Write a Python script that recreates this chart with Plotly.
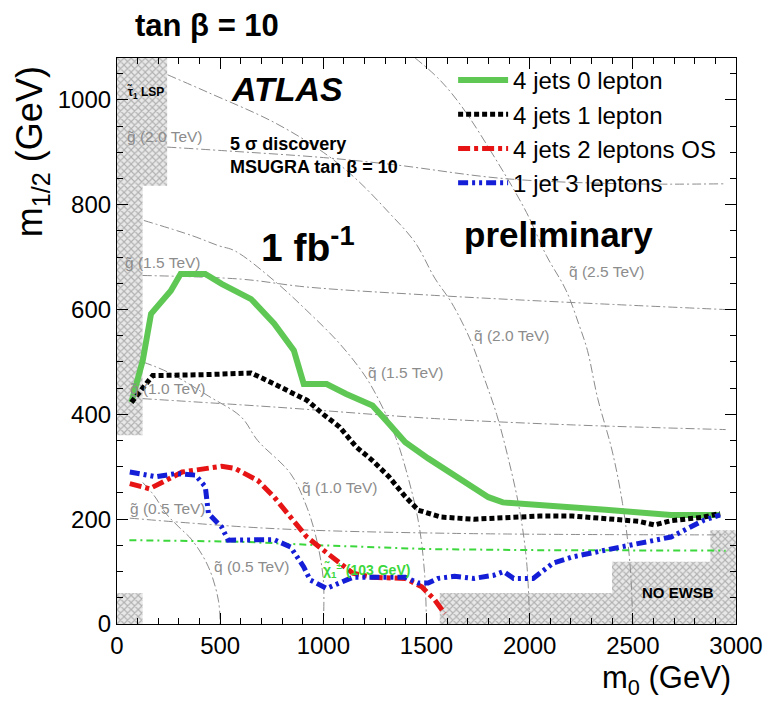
import plotly.graph_objects as go

# ---------------- data (m0, m1/2 in GeV) ----------------
jets4_0lep_m0 = [70, 125, 165, 205, 261, 308, 428, 507, 650, 762, 857, 905, 1016, 1111, 1238, 1318, 1397, 1508, 1600, 1700, 1800, 1870, 1985, 2113, 2367, 2478, 2605, 2685, 2923]
jets4_0lep_m12 = [423, 503, 592, 611, 636, 668, 668, 649, 620, 573, 522, 458, 458, 439, 417, 382, 347, 316, 293, 265, 242, 232, 230, 225, 218, 215, 211, 208, 208]

jets4_1lep_m0 = [70, 142, 173, 443, 650, 762, 920, 1000, 1079, 1159, 1238, 1318, 1397, 1461, 1572, 1731, 2049, 2208, 2367, 2526, 2605, 2685, 2844, 2923]
jets4_1lep_m12 = [423, 458, 474, 476, 479, 458, 427, 400, 376, 338, 312, 281, 243, 217, 204, 200, 206, 206, 201, 196, 189, 197, 204, 211]

jets4_2lep_m0 = [62, 157, 237, 316, 507, 571, 682, 762, 841, 920, 1000, 1079, 1143, 1238, 1397, 1477, 1540, 1588]
jets4_2lep_m12 = [268, 258, 274, 290, 301, 297, 274, 242, 204, 166, 141, 116, 97, 89, 87, 71, 46, 20]

jet1_3lep_m0 = [62, 189, 285, 380, 428, 443, 507, 539, 762, 841, 905, 936, 1016, 1079, 1143, 1397, 1461, 1508, 1556, 1636, 1731, 1826, 1874, 1922, 2017, 2113, 2208, 2367, 2526, 2685, 2844, 2923]
jet1_3lep_m12 = [290, 281, 287, 284, 262, 211, 185, 160, 161, 147, 109, 84, 68, 78, 89, 89, 78, 78, 87, 91, 87, 93, 100, 87, 87, 116, 128, 141, 154, 166, 198, 208]

chargino_m0 = [60, 600, 1000, 1500, 2000, 2950]
chargino_m12 = [160, 157, 150, 143, 141, 140]

# gluino iso-mass lines
gl05_m0 = [62, 762, 1620, 2950]
gl05_m12 = [202, 182, 173, 170]
gl10_m0 = [124, 762, 1540, 2200, 2950]
gl10_m12 = [430, 414, 392, 380, 371]
gl15_m0 = [124, 602, 920, 1540, 2176, 2950]
gl15_m12 = [665, 658, 643, 627, 614, 600]
gl20_m0 = [243, 523, 1000, 1350, 1874, 2462, 2950]
gl20_m12 = [910, 903, 890, 876, 850, 840, 840]

# squark iso-mass lines
sq05_m0 = [125, 180, 237, 300, 364, 443, 491, 500]
sq05_m12 = [270, 245, 211, 185, 160, 109, 46, 0]
sq10_m0 = [125, 250, 443, 602, 682, 841, 920, 968, 1000, 1000]
sq10_m12 = [500, 480, 435, 395, 350, 287, 223, 160, 84, 0]
sq15_m0 = [130, 364, 491, 571, 762, 920, 1079, 1206, 1286, 1350, 1400, 1461, 1490, 1500]
sq15_m12 = [770, 741, 722, 712, 655, 598, 535, 471, 414, 357, 295, 195, 100, 0]
sq20_m0 = [245, 443, 762, 1000, 1159, 1318, 1445, 1540, 1620, 1715, 1779, 1840, 1900, 1950, 1985, 2000]
sq20_m12 = [1048, 1014, 957, 900, 849, 785, 728, 660, 614, 540, 470, 400, 310, 220, 120, 0]
sq25_m0 = [1445, 1560, 1668, 1826, 1985, 2081, 2176, 2240, 2280, 2330, 2400, 2450, 2485, 2500]
sq25_m12 = [1080, 1040, 989, 893, 785, 703, 637, 570, 522, 430, 330, 230, 120, 0]

# excluded (hatched) regions
lsp_top_m0 = [0, 243, 243, 0]
lsp_top_m12 = [836, 836, 1080, 1080]
lsp_strip_m0 = [0, 124, 124, 0]
lsp_strip_m12 = [360, 360, 836, 836]
lowleft_m0 = [0, 124, 124, 0]
lowleft_m12 = [0, 0, 59, 59]
noewsb_m0 = [1564, 1564, 2399, 2399, 2876, 2876, 3000, 3000]
noewsb_m12 = [0, 59, 59, 119, 119, 179, 179, 0]

x_ticks = [0, 500, 1000, 1500, 2000, 2500, 3000]
y_ticks = [0, 200, 400, 600, 800, 1000]

FONT = "Liberation Sans, Arial, sans-serif"
GRAY = "rgb(140,140,140)"

fig = go.Figure()

# hatched regions
for xs, ys in [(lsp_top_m0, lsp_top_m12), (lsp_strip_m0, lsp_strip_m12),
               (lowleft_m0, lowleft_m12), (noewsb_m0, noewsb_m12)]:
    fig.add_trace(go.Scatter(
        x=xs, y=ys, mode="lines", fill="toself", line=dict(width=0),
        fillcolor="rgba(0,0,0,0)",
        fillpattern=dict(shape="x", fgcolor="rgb(120,120,120)", bgcolor="rgb(232,232,232)",
                         size=5, solidity=0.4),
        showlegend=False, hoverinfo="skip"))

# gray iso-mass lines
for xs, ys in [(gl05_m0, gl05_m12), (gl10_m0, gl10_m12), (gl15_m0, gl15_m12), (gl20_m0, gl20_m12),
               (sq05_m0, sq05_m12), (sq10_m0, sq10_m12), (sq15_m0, sq15_m12),
               (sq20_m0, sq20_m12), (sq25_m0, sq25_m12)]:
    fig.add_trace(go.Scatter(
        x=xs, y=ys, mode="lines", line=dict(color=GRAY, width=1, dash="9px,3px,2px,3px"),
        line_shape="spline", showlegend=False, hoverinfo="skip"))

# chargino limit
fig.add_trace(go.Scatter(
    x=chargino_m0, y=chargino_m12, mode="lines",
    line=dict(color="rgb(60,215,60)", width=2, dash="7px,4px,2px,4px"),
    showlegend=False, hoverinfo="skip"))

# discovery curves
fig.add_trace(go.Scatter(
    x=jets4_0lep_m0, y=jets4_0lep_m12, mode="lines", name="4 jets 0 lepton", legendgroup="a",
    line=dict(color="rgb(95,200,85)", width=6)))
fig.add_trace(go.Scatter(
    x=jets4_1lep_m0, y=jets4_1lep_m12, mode="lines", name="4 jets 1 lepton", legendgroup="b",
    line=dict(color="black", width=5, dash="5px,3px")))
fig.add_trace(go.Scatter(
    x=jets4_2lep_m0, y=jets4_2lep_m12, mode="lines", name="4 jets 2 leptons OS", legendgroup="c",
    line=dict(color="rgb(230,20,20)", width=5, dash="12px,4px,4px,4px")))
fig.add_trace(go.Scatter(
    x=jet1_3lep_m0, y=jet1_3lep_m12, mode="lines", name="1 jet 3 leptons", legendgroup="d",
    line=dict(color="rgb(20,30,215)", width=5, dash="10px,4px,3px,4px,3px,4px")))

ann = []
def txt(x, y, s, size, color="black", xanchor="left", ref="data", yanchor="middle", **kw):
    d = dict(x=x, y=y, text=s, showarrow=False, xanchor=xanchor, yanchor=yanchor,
             font=dict(family=FONT, size=size, color=color))
    if ref == "paper":
        d.update(xref="paper", yref="paper")
    d.update(kw)
    ann.append(d)

# gray labels
txt(40, 930, "g\u0303 (2.0 TeV)", 15.5, GRAY)
txt(29, 690, "g\u0303 (1.5 TeV)", 15.5, GRAY)
txt(52, 450, "g\u0303 (1.0 TeV)", 15.5, GRAY)
txt(52, 221, "g\u0303 (0.5 TeV)", 15.5, GRAY)
txt(458, 110, "q\u0303 (0.5 TeV)", 15.5, GRAY)
txt(887, 261, "q\u0303 (1.0 TeV)", 15.5, GRAY)
txt(1206, 480, "q\u0303 (1.5 TeV)", 15.5, GRAY)
txt(1721, 550, "q\u0303 (2.0 TeV)", 15.5, GRAY)
txt(2179, 672, "q\u0303 (2.5 TeV)", 15.5, GRAY)

txt(40, 1015, "<b>\u03c4\u0303<sub>1</sub> LSP</b>", 12)
txt(990, 103, "<b>\u03c7\u0303<sub>1</sub><sup>\u00b1</sup> (103 GeV)</b>", 14, "rgb(60,215,60)")
txt(2720, 61, "<b>NO EWSB</b>", 15, xanchor="center")

txt(0.275, 0.945, "<b><i>ATLAS</i></b>", 34, xanchor="center", ref="paper")
txt(0.179, 0.848, "<b>5 \u03c3 discovery</b>", 18, ref="paper")
txt(0.179, 0.808, "<b>MSUGRA tan \u03b2 = 10</b>", 18, ref="paper")
txt(0.230, 0.670, "<b>1 fb<sup>-1</sup></b>", 39, ref="paper")
txt(0.714, 0.688, "<b>preliminary</b>", 35, xanchor="center", ref="paper")

# axis titles
txt(-0.137, 0.834, "m<sub>1/2</sub> (GeV)", 36, xanchor="center", ref="paper", textangle=-90)
txt(0.888, -0.060, "m<sub>0</sub> (GeV)", 31, xanchor="center", ref="paper", yanchor="top")

axis_common = dict(
    showline=True, linecolor="black", linewidth=1.2, mirror="ticks",
    ticks="inside", ticklen=11, tickcolor="black", tickwidth=1,
    showgrid=False, zeroline=False,
    tickfont=dict(family=FONT, size=24, color="black"),
)

fig.update_layout(
    width=775, height=701,
    margin=dict(l=117, r=29, t=58, b=77),
    paper_bgcolor="white", plot_bgcolor="white",
    title=dict(text="<b>tan \u03b2 = 10</b>", x=0.267, y=0.964, xanchor="center", yanchor="middle",
               font=dict(family=FONT, size=31, color="black")),
    xaxis=dict(range=[0, 3000], tickvals=x_ticks, ticktext=[str(v) for v in x_ticks],
               minor=dict(dtick=100, ticks="inside", ticklen=6, tickcolor="black"),
               **axis_common),
    yaxis=dict(range=[0, 1080], tickvals=y_ticks, ticktext=[str(v) for v in y_ticks],
               minor=dict(dtick=50, ticks="inside", ticklen=6, tickcolor="black"),
               **axis_common),
    legend=dict(x=0.543, y=1.0, xanchor="left", yanchor="top", bgcolor="rgba(0,0,0,0)",
                font=dict(family=FONT, size=24, color="black"), tracegroupgap=0,
                itemwidth=50),
    annotations=ann,
    showlegend=True,
)

fig.write_html("out.html")
